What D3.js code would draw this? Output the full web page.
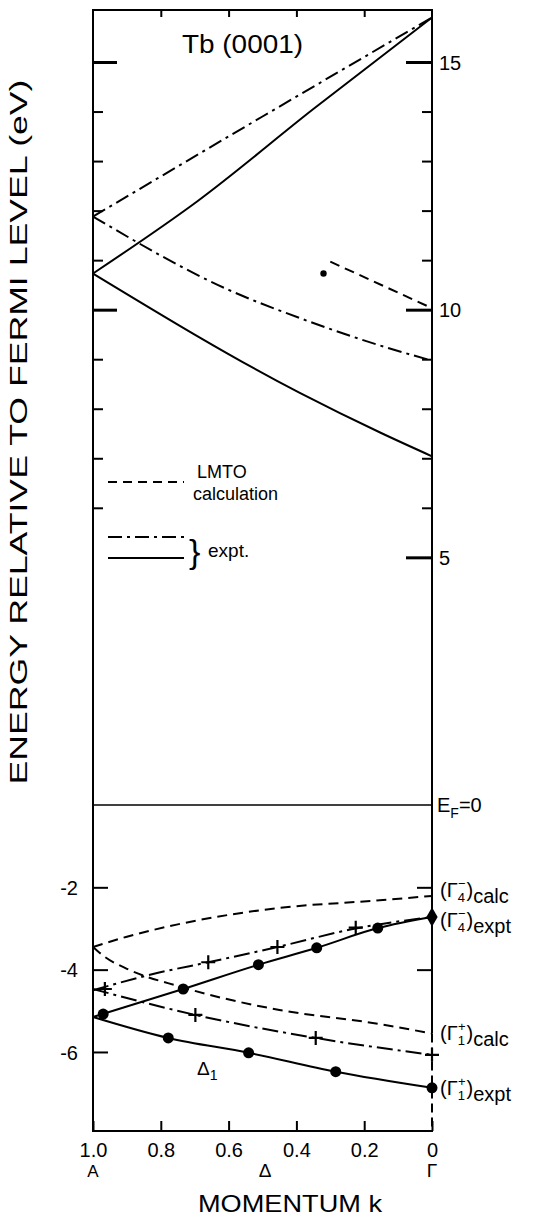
<!DOCTYPE html>
<html>
<head>
<meta charset="utf-8">
<script src="https://cdn.jsdelivr.net/npm/d3@7"></script>
<style>
  html, body { margin: 0; padding: 0; background: #fff; }
  svg { display: block; font-family: "Liberation Sans", Arial, sans-serif; }
</style>
</head>
<body>
<div id="chart"></div>
<script>
const W = 541, H = 1218;

// axis values
const xTicks = [1.0, 0.8, 0.6, 0.4, 0.2, 0];
const xTickLabels = ["1.0", "0.8", "0.6", "0.4", "0.2", "0"];
const upperMinorTicks = [6, 7, 8, 9, 11, 12, 13, 14];
const upperMajorTicks = [5, 10, 15];
const lowerTicks = [-2, -4, -6];

// upper panel: empty bands above E_F, [k, E]
const exptSolidRise = [[1.0, 10.73], [0.69, 12.2], [0.35, 14.05], [0, 15.9]];
const exptSolidFall = [[1.0, 10.73], [0.39, 8.32], [0.15, 7.51], [0, 7.04]];
const exptDashDotRise = [[1.0, 11.88], [0.5, 13.9], [0, 15.9]];
const exptDashDotFall = [[1.0, 11.88], [0.6, 10.4], [0.39, 9.83], [0.15, 9.27], [0, 8.97]];
const lmtoUpper = [[0.30, 10.97], [0, 10.03]];
const upperPoint = [[0.32, 10.73]];

// lower panel: occupied bands, [k, E]
const lmtoRise = [[1.0, -3.45], [0.9, -3.2], [0.75, -2.9], [0.45, -2.5], [0.18, -2.33], [0, -2.21]];
const lmtoFall = [[1.0, -3.45], [0.965, -3.69], [0.9, -3.98], [0.74, -4.42], [0.45, -4.98], [0.18, -5.29], [0, -5.55]];
const dotsRise = [[1.0, -5.15], [0.734, -4.47], [0.512, -3.88], [0.34, -3.47], [0.16, -2.99], [0, -2.72]];
const dotsRiseMarks = [[0.97, -5.08], [0.734, -4.47], [0.512, -3.88], [0.34, -3.47], [0.16, -2.99]];
const dotsFall = [[1.0, -5.15], [0.778, -5.66], [0.541, -6.02], [0.284, -6.48], [0, -6.87]];
const dotsFallMarks = [[0.778, -5.66], [0.541, -6.02], [0.284, -6.48], [0, -6.87]];
const plusRise = [[1.0, -4.5], [0.82, -4.1], [0.66, -3.82], [0.456, -3.45], [0.225, -3.0], [0, -2.72]];
const plusRiseMarks = [[0.66, -3.82], [0.456, -3.45], [0.225, -2.98]];
const plusFall = [[1.0, -4.47], [0.698, -5.10], [0.343, -5.66], [0, -6.07]];
const plusFallMarks = [[0.965, -4.47], [0.698, -5.10], [0.343, -5.66], [0, -6.07]];
const gamma4Expt = [[0, -2.72]];

const svg = d3.select("#chart").append("svg")
    .attr("width", W)
    .attr("height", H);

const x = d3.scaleLinear().domain([1, 0]).range([93, 432]);
const y = d3.scaleLinear().domain([-7.92, 0, 16.05]).range([1131, 805, 10]);

const line = d3.line()
    .x(d => x(d[0]))
    .y(d => y(d[1]))
    .curve(d3.curveMonotoneX);

const DASH = "10,6";
const DASHDOT = "14,5,3,5";

// frame
const frame = svg.append("g").attr("stroke", "#000").attr("stroke-width", 2).attr("fill", "none");
frame.append("line").attr("x1", x(1)).attr("x2", x(1)).attr("y1", y(16.05)).attr("y2", y(-7.92));
frame.append("line").attr("x1", x(1) - 1).attr("x2", x(0) + 1).attr("y1", y(16.05)).attr("y2", y(16.05));
frame.append("line").attr("x1", x(1) - 1).attr("x2", x(0) + 1).attr("y1", y(-7.92)).attr("y2", y(-7.92));
frame.append("line").attr("x1", x(0)).attr("x2", x(0)).attr("y1", y(16.05)).attr("y2", y(-5.55));
frame.append("line").attr("x1", x(0)).attr("x2", x(0)).attr("y1", y(-5.55)).attr("y2", y(-7.92))
    .attr("stroke-dasharray", "9,5");
// Fermi level
frame.append("line").attr("x1", x(1)).attr("x2", x(0)).attr("y1", y(0)).attr("y2", y(0))
    .attr("stroke-width", 1.6);

function styleAxis(g, w) {
    g.select(".domain").remove();
    g.selectAll(".tick line").attr("stroke-width", w);
    g.selectAll(".tick text").attr("fill", "#000");
}

// bottom axis
svg.append("g")
    .attr("transform", `translate(0,${y(-7.92)})`)
    .call(d3.axisBottom(x).tickValues(xTicks).tickSize(-10).tickPadding(12)
        .tickFormat((d, i) => xTickLabels[i]))
    .call(g => styleAxis(g, 2))
    .call(g => g.selectAll(".tick text").attr("font-size", 20));

// top axis
svg.append("g")
    .attr("transform", `translate(0,${y(16.05)})`)
    .call(d3.axisTop(x).tickValues([0.8, 0.6, 0.4, 0.2]).tickSize(-7).tickFormat(""))
    .call(g => styleAxis(g, 2));

// upper panel y ticks
svg.append("g")
    .attr("transform", `translate(${x(1)},0)`)
    .call(d3.axisLeft(y).tickValues(upperMinorTicks).tickSize(-10).tickFormat(""))
    .call(g => styleAxis(g, 2));
svg.append("g")
    .attr("transform", `translate(${x(1)},0)`)
    .call(d3.axisLeft(y).tickValues([10, 15]).tickSize(-24).tickFormat(""))
    .call(g => styleAxis(g, 3));
svg.append("g")
    .attr("transform", `translate(${x(0)},0)`)
    .call(d3.axisRight(y).tickValues(upperMinorTicks).tickSize(-10).tickFormat(""))
    .call(g => styleAxis(g, 2));
svg.append("g")
    .attr("transform", `translate(${x(0)},0)`)
    .call(d3.axisRight(y).tickValues(upperMajorTicks).tickSize(-26).tickPadding(7))
    .call(g => styleAxis(g, 3))
    .call(g => g.selectAll(".tick text").attr("font-size", 20).attr("dy", "0.36em"));

// lower panel y ticks
svg.append("g")
    .attr("transform", `translate(${x(1)},0)`)
    .call(d3.axisLeft(y).tickValues(lowerTicks).tickSize(-15).tickPadding(15)
        .tickFormat(d => "-" + Math.abs(d)))
    .call(g => styleAxis(g, 2))
    .call(g => g.selectAll(".tick text").attr("font-size", 20).attr("dy", "0.36em"));
svg.append("g")
    .attr("transform", `translate(${x(0)},0)`)
    .call(d3.axisRight(y).tickValues([-2, -4]).tickSize(-15).tickFormat(""))
    .call(g => styleAxis(g, 2));

// curves
const curves = svg.append("g").attr("fill", "none").attr("stroke", "#000").attr("stroke-width", 2);
[exptSolidRise, exptSolidFall, dotsRise, dotsFall].forEach(d =>
    curves.append("path").attr("d", line(d)));
[exptDashDotRise, exptDashDotFall].forEach(d =>
    curves.append("path").attr("d", line(d)).attr("stroke-dasharray", DASHDOT));
[plusRise, plusFall].forEach(d =>
    curves.append("path").attr("d", line(d)).attr("stroke-dasharray", "16,5,3,5"));
[lmtoUpper, lmtoRise, lmtoFall].forEach(d =>
    curves.append("path").attr("d", line(d)).attr("stroke-dasharray", DASH));

// markers
const marks = svg.append("g");
marks.selectAll("circle")
    .data(dotsRiseMarks.concat(dotsFallMarks))
    .join("circle")
    .attr("cx", d => x(d[0]))
    .attr("cy", d => y(d[1]))
    .attr("r", 5.5)
    .attr("fill", "#000");
marks.selectAll("circle.small")
    .data(upperPoint)
    .join("circle")
    .attr("class", "small")
    .attr("cx", d => x(d[0]))
    .attr("cy", d => y(d[1]))
    .attr("r", 3.2)
    .attr("fill", "#000");
marks.selectAll("path.plus")
    .data(plusRiseMarks.concat(plusFallMarks))
    .join("path")
    .attr("class", "plus")
    .attr("transform", d => `translate(${x(d[0])},${y(d[1])})`)
    .attr("d", "M-7,0H7M0,-7V7")
    .attr("stroke", "#000")
    .attr("stroke-width", 2.2);
marks.selectAll("path.diamond")
    .data(gamma4Expt)
    .join("path")
    .attr("class", "diamond")
    .attr("transform", d => `translate(${x(d[0])},${y(d[1])})`)
    .attr("d", d3.symbol(d3.symbolDiamond).size(110))
    .attr("fill", "#000");

// legend
const leg = svg.append("g").attr("stroke", "#000").attr("stroke-width", 2);
leg.append("line").attr("x1", 108).attr("x2", 184).attr("y1", 482).attr("y2", 482).attr("stroke-dasharray", "9,6");
leg.append("line").attr("x1", 108).attr("x2", 184).attr("y1", 537).attr("y2", 537).attr("stroke-dasharray", DASHDOT);
leg.append("line").attr("x1", 108).attr("x2", 184).attr("y1", 558).attr("y2", 558);

const txt = svg.append("g").attr("fill", "#000");
txt.append("text").attr("x", 197).attr("y", 478).attr("font-size", 18).text("LMTO");
txt.append("text").attr("x", 193).attr("y", 500).attr("font-size", 18).text("calculation");
txt.append("text").attr("x", 189).attr("y", 563).attr("font-size", 34).attr("font-weight", 300).text("}");
txt.append("text").attr("x", 208).attr("y", 557).attr("font-size", 19).text("expt.");

// title
txt.append("text").attr("x", 182).attr("y", 53).attr("font-size", 25)
    .attr("textLength", 121).attr("lengthAdjust", "spacingAndGlyphs").text("Tb (0001)");

// axis titles
txt.append("text")
    .attr("transform", "translate(27,432) rotate(-90)")
    .attr("text-anchor", "middle")
    .attr("font-size", 23)
    .attr("textLength", 705)
    .attr("lengthAdjust", "spacingAndGlyphs")
    .text("ENERGY RELATIVE TO FERMI LEVEL (eV)");
txt.append("text").attr("x", 198).attr("y", 1212).attr("font-size", 24)
    .attr("textLength", 184).attr("lengthAdjust", "spacingAndGlyphs").text("MOMENTUM k");

// symmetry points
txt.append("text").attr("x", x(1)).attr("y", 1177).attr("font-size", 17).attr("text-anchor", "middle").text("A");
txt.append("text").attr("x", 265).attr("y", 1177).attr("font-size", 19).attr("text-anchor", "middle").text("Δ");
txt.append("text").attr("x", x(0)).attr("y", 1177).attr("font-size", 19).attr("text-anchor", "middle").text("Γ");

// band label
const d1 = txt.append("text").attr("x", 197).attr("y", 1075).attr("font-size", 19);
d1.append("tspan").text("Δ");
d1.append("tspan").attr("font-size", 14).attr("dy", 5).text("1");

// Fermi label
const ef = txt.append("text").attr("x", 437).attr("y", y(0) + 7).attr("font-size", 20);
ef.append("tspan").text("E");
ef.append("tspan").attr("font-size", 14).attr("dy", 6).text("F");
ef.append("tspan").attr("dy", -6).text("=0");

// gamma labels
function gammaLabel(e, yOff, sub, sup, suffix) {
    const t = txt.append("text").attr("x", 440).attr("y", y(e) + yOff).attr("font-size", 20);
    t.append("tspan").text("(Γ");
    t.append("tspan").attr("font-size", 13).attr("dy", 5).text(sub);
    t.append("tspan").attr("font-size", 13).attr("dx", -7).attr("dy", -14).text(sup);
    t.append("tspan").attr("dx", 1).attr("dy", 9).text(")");
    t.append("tspan").attr("dy", 6).text(suffix);
}
gammaLabel(-2.21, 1, "4", "−", "calc");
gammaLabel(-2.72, 10, "4", "−", "expt");
gammaLabel(-5.55, 7, "1", "+", "calc");
gammaLabel(-6.87, 7, "1", "+", "expt");
</script>
</body>
</html>
